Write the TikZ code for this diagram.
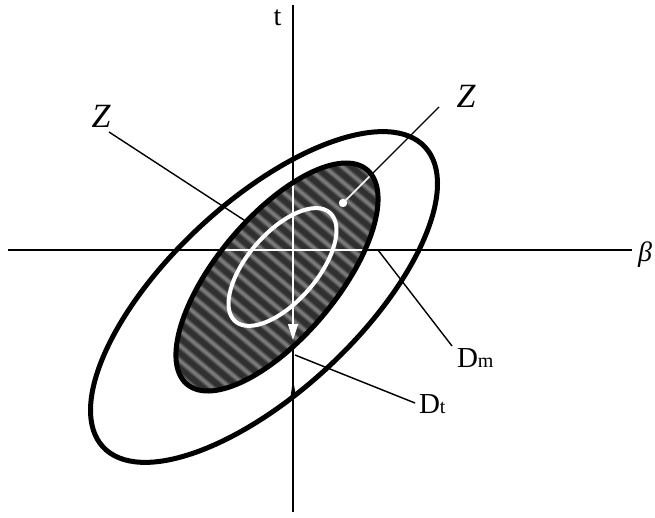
\documentclass[tikz,border=0pt]{standalone}
\usepackage{fontspec}
\setmainfont{Liberation Serif}
\usetikzlibrary{arrows.meta}
\definecolor{darkbg}{RGB}{48,48,48}
\definecolor{stripesoft}{RGB}{80,80,80}
\definecolor{stripecol}{RGB}{120,120,120}
\begin{document}
\begin{tikzpicture}[x=1pt,y=1pt,
  axisline/.style={line width=1.6pt, black},
  ring/.style={line width=5pt, black},
  leader/.style={line width=1.4pt, black},
  whiteline/.style={line width=1.6pt, white},
  stripewide/.style={line width=6pt, stripesoft},
  stripe/.style={line width=3pt, stripecol},
  lbl/.style={inner sep=0pt, outer sep=0pt}]
\useasboundingbox (0,0) rectangle (655,517);
% named points
\coordinate (cO) at (264,220);
\coordinate (cD) at (277,240);
\coordinate (cW) at (282.5,250);
\coordinate (vTop) at (293,512);
\coordinate (vBot) at (293,5);
\coordinate (hL) at (8,267);
\coordinate (hR) at (632,267);
\coordinate (zLa) at (109,385);
\coordinate (zLb) at (247,295);
\coordinate (zRa) at (439,410);
\coordinate (dot) at (343,314);
\coordinate (dmA) at (378,267);
\coordinate (dmB) at (452,171);
\coordinate (dtA) at (295,162);
\coordinate (dtB) at (415,114);
\coordinate (arTop) at (293,380);
\coordinate (arTip) at (293,177);
% axes
\draw[axisline] (vBot) -- (vTop);
\draw[axisline] (hL) -- (hR);
% leaders
\draw[leader] (zLa) -- (zLb);
\draw[leader] (zRa) -- (dot);
\draw[leader] (dmA) -- (dmB);
\draw[leader] (dtA) -- (dtB);
% outer ellipse
\draw[ring, rotate around={43:(cO)}] (cO) ellipse [x radius=220pt, y radius=95pt];
\fill (290.6,121) -- (296,121) -- (293.6,134) -- (292.6,134) -- cycle;
% dark ellipse interior
\begin{scope}
  \clip[rotate around={50:(cD)}] (cD) ellipse [x radius=140pt, y radius=60pt];
  \fill[darkbg] (100,60) rectangle (460,420);
  \begin{scope}[rotate around={-40:(cD)}]
    \foreach \k in {-22,...,22} {
      \draw[stripewide] (77,240+\k*11.5) -- (477,240+\k*11.5);
      \draw[stripe] (77,240+\k*11.5) -- (477,240+\k*11.5);
    }
  \end{scope}
  \draw[whiteline] (hL) -- (hR);
  \draw[whiteline] (zRa) -- (dot);
  \draw[whiteline, -{Triangle[length=16pt,width=10pt]}] (arTop) -- (arTip);
\end{scope}
\draw[ring, rotate around={50:(cD)}] (cD) ellipse [x radius=140pt, y radius=60pt];
% white ellipse
\draw[line width=4pt, white, rotate around={49:(cW)}] (cW) ellipse [x radius=72pt, y radius=34.6pt];
\fill[white] (dot) circle (4.2pt);
% labels
\node[lbl, font=\fontsize{28}{28}\selectfont] (tlab) at (277.5,499) {t};
\node[lbl, font=\fontsize{28}{28}\selectfont\itshape] (blab) at (645,262) {β};
\node[lbl, font=\fontsize{34}{34}\selectfont\itshape] (zL) at (101,400.5) {Z};
\node[lbl, font=\fontsize{34}{34}\selectfont\itshape] (zR) at (466,420.5) {Z};
\node[lbl, anchor=base west] (dm) at (457,150) {\fontsize{29}{29}\selectfont D\fontsize{20}{20}\selectfont m};
\node[lbl, anchor=base west] (dt) at (419,104) {\fontsize{29}{29}\selectfont D\fontsize{20}{20}\selectfont t};
\end{tikzpicture}
\end{document}
